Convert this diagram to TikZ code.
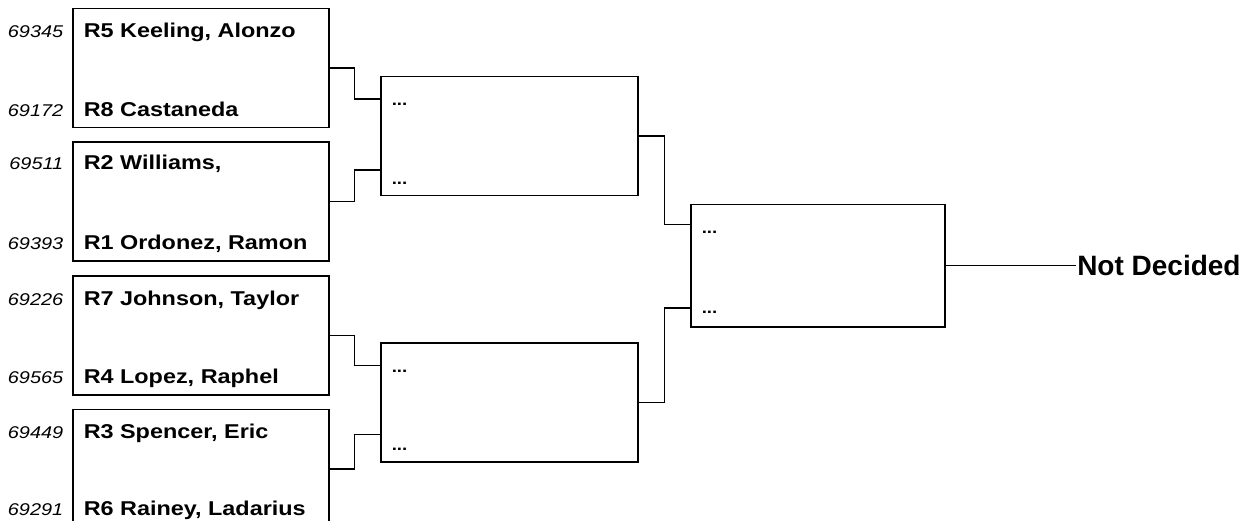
\documentclass[tikz,border=0pt]{standalone}
\usepackage{fontspec}
\setmainfont{Liberation Sans}
\newfontfamily\widesans[FakeStretch=1.17]{Liberation Sans}
\usetikzlibrary{positioning}

\begin{document}
\begin{tikzpicture}[
	x=1pt, y=-1pt,
	line width=1.5pt,
	slot/.style={
		draw,
		inner sep=0pt,
		minimum width=256pt,
		minimum height=119pt
	},
	player/.style={
		anchor=base west,
		inner sep=0pt,
		font=\widesans\bfseries\fontsize{20}{22}\selectfont
	},
	seed/.style={
		anchor=base east,
		inner sep=0pt,
		font=\widesans\itshape\fontsize{17}{19}\selectfont
	},
	tbd/.style={
		anchor=base west,
		inner sep=0pt,
		font=\widesans\bfseries\fontsize{16}{18}\selectfont
	}
	]
	\useasboundingbox (0,0) rectangle (1252,521);
	\clip (0,0) rectangle (1252,521);

	%------------------------------------------------
	% FIRST ROUND
	%------------------------------------------------

	\node[slot, anchor=north west] (B1) at (72,8) {};
	\node[slot, below=13pt of B1] (B2) {};
	\node[slot, below=13pt of B2] (B3) {};
	\node[slot, below=13pt of B3] (B4) {};

	\node[player] (p5) at ([xshift=11pt,yshift=-30pt]B1.north west) {R5 Keeling, Alonzo};
	\node[player] (p8) at ([xshift=11pt,yshift=12pt]B1.south west) {R8 Castaneda};
	\node[player] (p2) at ([xshift=11pt,yshift=-28pt]B2.north west) {R2 Williams,};
	\node[player] (p1) at ([xshift=11pt,yshift=12pt]B2.south west) {R1 Ordonez, Ramon};
	\node[player] (p7) at ([xshift=11pt,yshift=-30pt]B3.north west) {R7 Johnson, Taylor};
	\node[player] (p4) at ([xshift=11pt,yshift=12pt]B3.south west) {R4 Lopez, Raphel};
	\node[player] (p3) at ([xshift=11pt,yshift=-30pt]B4.north west) {R3 Spencer, Eric};
	\node[player] (p6) at ([xshift=11pt,yshift=14pt]B4.south west) {R6 Rainey, Ladarius};

	\node[seed] (s5) at ([xshift=-19pt]p5.base west) {69345};
	\node[seed] (s8) at ([xshift=-19pt]p8.base west) {69172};
	\node[seed] (s2) at ([xshift=-19pt]p2.base west) {69511};
	\node[seed] (s1) at ([xshift=-19pt]p1.base west) {69393};
	\node[seed] (s7) at ([xshift=-19pt]p7.base west) {69226};
	\node[seed] (s4) at ([xshift=-19pt]p4.base west) {69565};
	\node[seed] (s3) at ([xshift=-19pt]p3.base west) {69449};
	\node[seed] (s6) at ([xshift=-19pt]p6.base west) {69291};

	%------------------------------------------------
	% SEMIFINALS
	%------------------------------------------------

	\node[slot, anchor=north west, minimum width=257pt] (A) at (380,76) {};
	\node[slot, anchor=north west, minimum width=257pt] (B) at (380,342) {};

	\node[tbd] (a1) at ([xshift=11pt,yshift=-30pt]A.north west) {...};
	\node[tbd] (a2) at ([xshift=11pt,yshift=12pt]A.south west) {...};
	\node[tbd] (b1) at ([xshift=11pt,yshift=-30pt]B.north west) {...};
	\node[tbd] (b2) at ([xshift=11pt,yshift=12pt]B.south west) {...};

	%------------------------------------------------
	% FINAL
	%------------------------------------------------

	\node[slot, anchor=north west, minimum width=254pt, minimum height=122pt] (F) at (690,204) {};

	\node[tbd] (f1) at ([xshift=11pt,yshift=-30pt]F.north west) {...};
	\node[tbd] (f2) at ([xshift=11pt,yshift=14pt]F.south west) {...};

	\node[
	right=130pt of F,
	inner sep=1pt,
	font=\bfseries\fontsize{28}{30}\selectfont
	] (win) {Not Decided};

	%------------------------------------------------
	% CONNECTORS
	%------------------------------------------------

	\draw (B1.east) -- ++(25,0) |- ([yshift=37pt]A.west);
	\draw (B2.east) -- ++(25,0) |- ([yshift=-34pt]A.west);
	\draw (B3.east) -- ++(25,0) |- ([yshift=37pt]B.west);
	\draw (B4.east) -- ++(25,0) |- ([yshift=-32pt]B.west);

	\draw (A.east) -- ++(26,0) |- ([yshift=41pt]F.west);
	\draw (B.east) -- ++(26,0) |- ([yshift=-42pt]F.west);

	\draw (F.east) -- (win.west);

\end{tikzpicture}
\end{document}
